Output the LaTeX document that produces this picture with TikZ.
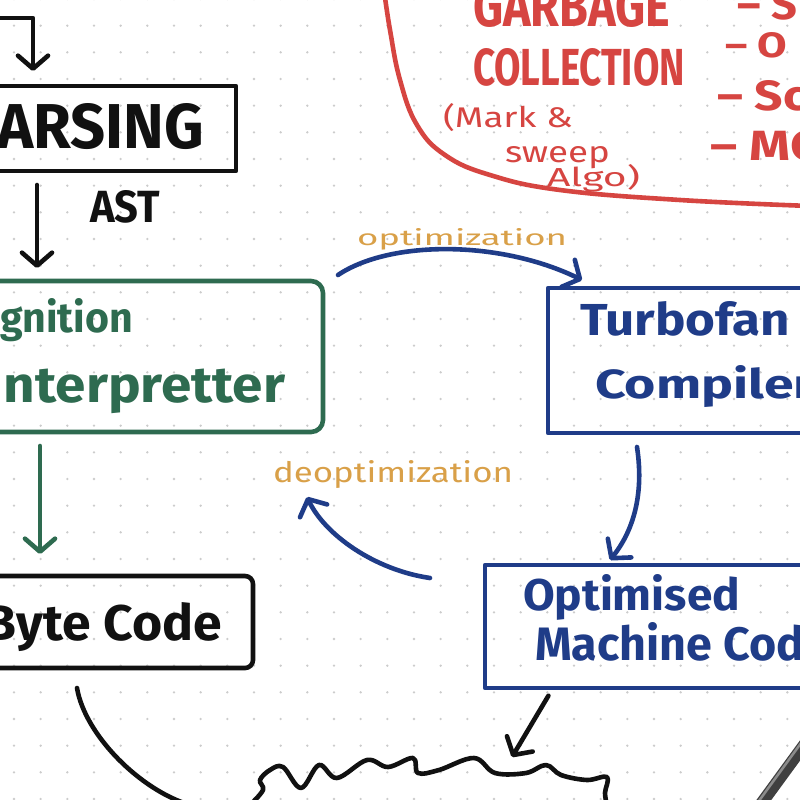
\documentclass[tikz,border=0pt]{standalone}
\usepackage{fontspec}
\setmainfont{Fira Sans}
\usetikzlibrary{arrows.meta,calc}
\definecolor{inkblack}{HTML}{111111}
\definecolor{inkgreen}{HTML}{2E6B50}
\definecolor{inkblue}{HTML}{1F3C88}
\definecolor{inkred}{HTML}{D64541}
\definecolor{inkorange}{HTML}{D9A048}
\definecolor{dotc}{HTML}{CCCCCC}
\newcommand{\fitbox}[3]{\resizebox{#1}{#2}{#3}}
\tikzset{
  ink/.style={line width=4.6pt, line cap=round, line join=round},
  box/.style={draw, ink, inner sep=0pt, outer sep=0pt},
  lbl/.style={inner sep=0pt, outer sep=0pt},
  hand/.style={lbl, font=\bfseries},
  barb/.style={-{Straight Barb[length=13pt,width=30pt,round]}},
}
\begin{document}
\begin{tikzpicture}[x=1pt,y=-1pt]
\useasboundingbox (0,0) rectangle (800,800);
\clip (0,0) rectangle (800,800);
\fill[white] (0,0) rectangle (800,800);
% dot grid
\foreach \i in {0,...,30}{\foreach \j in {0,...,30}{\fill[dotc] ({14+\i*26.667},{-1+\j*26.667}) circle (1.3pt);}}

% boxes
\node[box, inkblack, minimum width=336pt, minimum height=85pt] (parsing) at (68,128.5) {};
\node[box, inkgreen, rounded corners=12pt, minimum width=423pt, minimum height=151pt] (ign) at (111.5,356.5) {};
\node[box, inkblack, rounded corners=8pt, minimum width=353pt, minimum height=92pt] (bc) at (76.5,622) {};
\node[box, inkblue, minimum width=302pt, minimum height=145pt] (tf) at (699,360.5) {};
\node[box, inkblue, minimum width=365pt, minimum height=123pt] (mc) at (667.5,626.5) {};

% box texts
\node[hand, anchor=base east, text=inkblack] (parsingtxt) at (204,148) {\fitbox{240pt}{45pt}{PARSING}};
\node[hand, anchor=base west, text=inkblack] (asttxt) at (90,222) {\fitbox{70pt}{32pt}{AST}};
\node[hand, anchor=base east, text=inkgreen] (igntxt) at (133,332) {\fitbox{145pt}{34pt}{Ignition}};
\node[hand, anchor=base east, text=inkgreen] (inttxt) at (285,402) {\fitbox{297pt}{35pt}{Interpretter}};
\node[hand, anchor=base east, text=inkblack] (bctxt) at (222,640) {\fitbox{237pt}{38pt}{Byte Code}};
\node[hand, anchor=base west, text=inkblue] (tftxt) at (580,335) {\fitbox{210pt}{34pt}{Turbofan}};
\node[hand, anchor=base west, text=inkblue] (comptxt) at (595,398) {\fitbox{220pt}{33pt}{Compiler}};
\node[hand, anchor=base west, text=inkblue] (opttxt) at (523,610) {\fitbox{217pt}{36pt}{Optimised}};
\node[hand, anchor=base west, text=inkblue] (mctxt) at (535,660) {\fitbox{295pt}{38pt}{Machine Code}};

% garbage collection
\draw[ink, inkred] plot[smooth, tension=0.7] coordinates {(384,-10) (390,30) (400,80) (417,125) (445,155) (490,175) (560,190) (680,200) (810,206)};
\node[hand, anchor=base west, text=inkred] (gctxt1) at (473,27) {\fitbox{197pt}{41pt}{GARBAGE}};
\node[hand, anchor=base west, text=inkred] (gctxt2) at (473,85) {\fitbox{212pt}{37pt}{COLLECTION}};
\node[lbl, anchor=base west, text=inkred] (gcnote1) at (443,127) {\fitbox{130pt}{24pt}{(Mark \&}};
\node[lbl, anchor=base west, text=inkred] (gcnote2) at (505,162) {\fitbox{105pt}{16pt}{sweep}};
\node[lbl, anchor=base west, text=inkred] (gcnote3) at (547,186) {\fitbox{93pt}{22pt}{Algo)}};
\node[hand, anchor=base west, text=inkred] (gcl1) at (737,20) {\fitbox{60pt}{30pt}{– S}};
\node[hand, anchor=base west, text=inkred] (gcl2) at (725,58) {\fitbox{62pt}{25pt}{– O}};
\node[hand, anchor=base west, text=inkred] (gcl3) at (717,110) {\fitbox{90pt}{30pt}{– Sc}};
\node[hand, anchor=base west, text=inkred] (gcl4) at (710,160) {\fitbox{110pt}{30pt}{– MC}};

% connectors
\coordinate (topin) at (-5,18);
\coordinate (colA) at (33,0);
\coordinate (colB) at (37,0);
\coordinate (colC) at (40,0);
\coordinate (colD) at (77,0);
\coordinate (colE) at (553,0);
\coordinate (cloudL) at (190,805);
\coordinate (cloudtop) at (512,757);

\draw[ink, inkblack, barb, shorten >=15pt] (topin) -| (parsing.north -| colA);
\draw[ink, inkblack, barb, shorten <=14pt, shorten >=13pt] (parsing.south -| colB) -- (ign.north -| colB);
\draw[ink, inkgreen, barb, shorten <=14pt, shorten >=22pt] (ign.south -| colC) -- (bc.north -| colC);
\draw[ink, inkblack] ($(bc.south -| colD)+(0,20)$) .. controls +(8,47) and +(-50,-15) .. (cloudL);
\draw[ink, inkblack, barb, shorten <=9pt] (mc.south -| colE) -- (cloudtop);

\draw[ink, inkblue, barb] ($(ign.north east)+(15,-6)$) .. controls (390,240) and (500,240) .. ($(tf.north west)+(34,-8)$);
\draw[ink, inkblue, barb] ($(tf.south west)+(89,14)$) .. controls +(8,53) and +(20,-25) .. ($(mc.north west)+(125,-5)$);
\draw[ink, inkblue, barb] ($(mc.north west)+(-55,13)$) .. controls (375,570) and (325,535) .. ($(ign.south east)+(-16,65)$);

\node[lbl, anchor=base west, text=inkorange] (optlbl) at (357,245) {\fitbox{210pt}{17pt}{optimization}};
\node[lbl, anchor=base west, text=inkorange] (deoptlbl) at (273,482) {\fitbox{240pt}{22pt}{deoptimization}};

% cloud
\draw[ink, inkblack] plot[smooth, tension=0.6] coordinates {(250,805) (263,790) (260,780) (270,770) (283,767) (301,788) (319,765) (337,778) (367,760) (388,767) (413,758) (418,773) (439,770) (474,758) (495,773) (526,773) (546,765) (561,775) (587,780) (607,777) (605,793) (607,805)};

% stylus
\draw[line width=12pt, color=black!75, line cap=round] (815,730) -- (758,808);
\draw[line width=2.5pt, color=black!45] (812,728) -- (756,805);
\end{tikzpicture}
\end{document}
